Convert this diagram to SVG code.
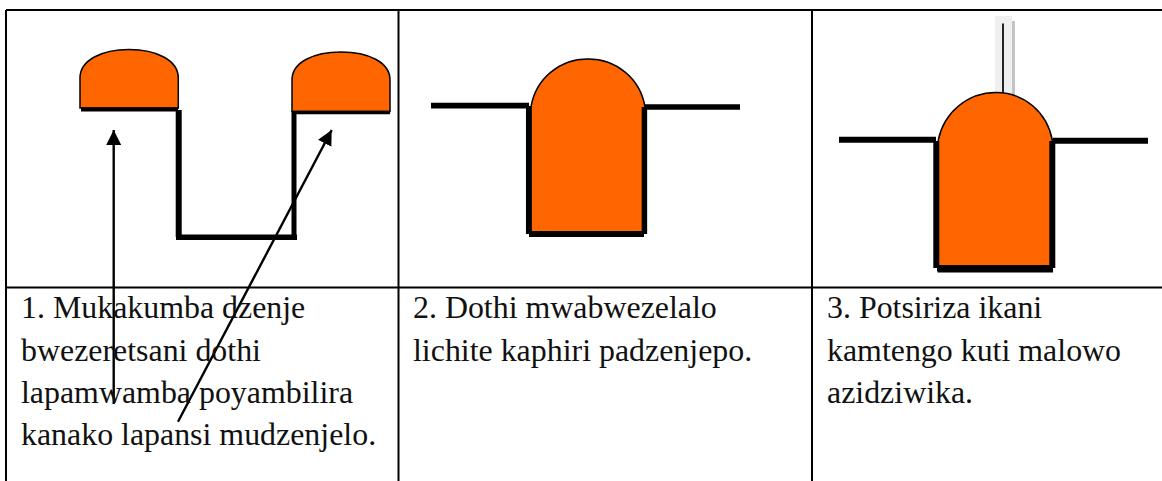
<svg xmlns="http://www.w3.org/2000/svg" width="1162" height="481" viewBox="0 0 1162 481">
<style>
.grid{stroke:#000;stroke-width:2;fill:none}
.soil{fill:#f60;stroke:#000;stroke-width:1.5}
.edge{fill:none;stroke:#000;stroke-linecap:butt;stroke-linejoin:miter}
.cap{font-family:"Liberation Serif","Times New Roman",serif;font-size:31.9px;fill:#111}
.pointer{fill:none;stroke:#000;stroke-width:2.4}
</style>
<defs>
<marker id="head" markerUnits="userSpaceOnUse" markerWidth="16" markerHeight="16" refX="15" refY="8" orient="auto">
<path d="M0,0.5 L15,8 L0,15.5 Z" fill="#000"/>
</marker>
</defs>
<rect width="1162" height="481" fill="#fff"/>
<g id="table">
<path class="grid" d="M6,10H1162M6,287.500H1162M6,10V481M398.500,10V481M812,10V481"/>
</g>
<g id="step1">
<path class="soil" d="M80,108V78C80,60 102,49.500 129,49.500C156,49.500 178.300,60 178.300,78V108Z"/>
<path class="soil" d="M292,111.500V80C292,62 314,52 341,52C368,52 390,62 390,80V111.500Z"/>
<path class="edge" stroke-width="4" d="M81,109.500H178"/>
<path class="edge" stroke-width="6" d="M178.700,110V237"/>
<path class="edge" stroke-width="5.500" d="M176,237.300H297"/>
<path class="edge" stroke-width="5" d="M294,238V111"/>
<path class="edge" stroke-width="3.500" d="M293,112.500H390"/>
</g>
<g id="step2">
<path class="soil" d="M531,106.700C536,78 560,59 588,59C616,59 640,78 645,106.700V232H531Z"/>
<path class="edge" stroke-width="5.700" d="M431,105.700H529"/>
<path class="edge" stroke-width="5.500" d="M528.700,106V234"/>
<path class="edge" stroke-width="6" d="M529,234H644"/>
<path class="edge" stroke-width="5.500" d="M644.400,234V107"/>
<path class="edge" stroke-width="5.700" d="M645,107H740"/>
</g>
<g id="step3">
<rect x="995" y="16" width="17" height="80" fill="#efefef"/>
<rect x="1012" y="21" width="3" height="75" fill="#c4c4c4"/>
<path d="M1003,23.500V93" class="edge" stroke-width="1.700"/>
<path class="soil" d="M938.300,271.700V140C944,112 968,92.500 996,92.500C1024,92.500 1047,112 1052.300,140V271.700Z"/>
<path class="edge" stroke-width="6" d="M839,139.700H936"/>
<path class="edge" stroke-width="6" d="M936.300,141V268"/>
<path class="edge" stroke-width="6" d="M937,268H1052"/>
<path class="edge" stroke-width="6" d="M1052.300,268V141"/>
<path class="edge" stroke-width="6" d="M1053,140.800H1148"/>
</g>
<g id="connectors">
<path class="pointer" marker-end="url(#head)" d="M113.700,404V130"/>
<path class="pointer" marker-end="url(#head)" d="M178,421.700L331.700,130"/>
</g>
<g id="captions" class="cap">
<text x="21" y="318">1. Mukakumba dzenje</text>
<text x="21" y="360.500">bwezeretsani dothi</text>
<text x="21" y="403">lapamwamba poyambilira</text>
<text x="21" y="445">kanako lapansi mudzenjelo.</text>
<text x="413" y="318">2. Dothi mwabwezelalo</text>
<text x="413" y="360.500">lichite kaphiri padzenjepo.</text>
<text x="827" y="318">3. Potsiriza ikani</text>
<text x="827" y="360.500">kamtengo kuti malowo</text>
<text x="827" y="403">azidziwika.</text>
</g>
</svg>
